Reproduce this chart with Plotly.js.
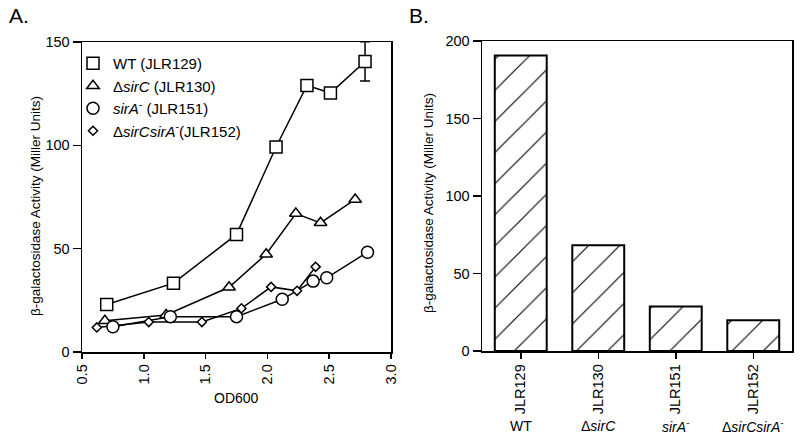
<!DOCTYPE html>
<html>
<head>
<meta charset="utf-8">
<script src="https://cdn.plot.ly/plotly-3.0.1.min.js"></script>
<style>html,body{margin:0;padding:0;background:#fff;}#chart{width:800px;height:438px;}</style>
</head>
<body>
<div id="chart"></div>
<script>
// Panel A: time course (OD600 vs beta-galactosidase activity)
const seriesNames = ['WT (JLR129)', 'Δ<i>sirC</i> (JLR130)', '<i>sirA</i><sup>-</sup> (JLR151)', 'Δ<i>sirCsirA</i><sup>-</sup>(JLR152)'];
const odWT = [0.70, 1.24, 1.75, 2.07, 2.32, 2.51, 2.79];
const actWT = [23.0, 33.3, 56.9, 99.2, 129.0, 125.3, 140.6];
const errWT = [0, 0, 0, 0, 0, 0, 9.5];
const odSirC = [0.685, 1.18, 1.69, 1.99, 2.23, 2.43, 2.71];
const actSirC = [15.1, 17.9, 31.3, 47.3, 67.0, 62.5, 73.8];
const odSirA = [0.75, 1.215, 1.75, 2.12, 2.37, 2.48, 2.81];
const actSirA = [12.2, 17.1, 17.1, 25.5, 34.3, 35.9, 48.3];
const odDouble = [0.62, 1.04, 1.47, 1.79, 2.03, 2.24, 2.39];
const actDouble = [11.9, 14.5, 14.5, 21.1, 31.5, 29.6, 41.2];
const xTickVals = [0.5, 1.0, 1.5, 2.0, 2.5, 3.0];
const xTickText = ['0.5', '1.0', '1.5', '2.0', '2.5', '3.0'];
const xTitleA = 'OD600';
const yTitle = 'β-galactosidase Activity (Miller Units)';

// Panel B: activity per strain
const strains = ['JLR129', 'JLR130', 'JLR151', 'JLR152'];
const genotypes = ['WT', 'Δ<i>sirC</i>', '<i>sirA</i><sup>-</sup>', 'Δ<i>sirCsirA</i><sup>-</sup>'];
const activityB = [190.7, 68.2, 28.7, 19.9];

const FONT = 'Liberation Sans, Arial, Helvetica, sans-serif';
const series = [
  {x: odWT, y: actWT, sym: 'square', size: 12, err: errWT},
  {x: odSirC, y: actSirC, sym: 'triangle-up', size: 11},
  {x: odSirA, y: actSirA, sym: 'circle', size: 12},
  {x: odDouble, y: actDouble, sym: 'diamond', size: 7}
];

const traces = [];
series.forEach(s => {
  traces.push({type: 'scatter', mode: 'lines', x: s.x, y: s.y, xaxis: 'x', yaxis: 'y',
    line: {color: '#000', width: 1.5}, showlegend: false, hoverinfo: 'skip'});
});
series.forEach((s, i) => {
  const t = {type: 'scatter', mode: 'markers', x: s.x, y: s.y, xaxis: 'x', yaxis: 'y',
    name: seriesNames[i],
    marker: {symbol: s.sym, size: s.size, color: '#fff', line: {color: '#000', width: 1.5}},
    showlegend: true};
  if (s.err) t.error_y = {type: 'data', array: s.err, visible: true, color: '#000', thickness: 1.5, width: 5};
  traces.push(t);
});

traces.push({type: 'bar', x: strains.map((_, i) => i), y: activityB, xaxis: 'x2', yaxis: 'y2', width: 0.67,
  showlegend: false,
  marker: {color: '#fff', line: {color: '#000', width: 2},
    pattern: {shape: '/', size: 22, solidity: 0.05, fgcolor: '#000', bgcolor: '#fff', fgopacity: 1, fillmode: 'replace'}}});

const axBase = {showline: true, mirror: true, linecolor: '#000', linewidth: 1.5, showgrid: false, zeroline: false,
  ticks: 'outside', tickcolor: '#000', tickwidth: 1.5, tickfont: {family: FONT, size: 14.5, color: '#000'}};

const annotations = [
  {text: 'A.', xref: 'paper', yref: 'paper', x: 7 / 800, y: 1 - 15 / 438, xanchor: 'left', yanchor: 'middle', showarrow: false,
    font: {family: FONT, size: 21, color: '#000'}},
  {text: 'B.', xref: 'paper', yref: 'paper', x: 407 / 800, y: 1 - 15 / 438, xanchor: 'left', yanchor: 'middle', showarrow: false,
    font: {family: FONT, size: 21, color: '#000'}},
  {text: yTitle, xref: 'paper', yref: 'paper', x: 35 / 800, y: 1 - 206 / 438, xanchor: 'center', yanchor: 'middle',
    textangle: -90, showarrow: false, font: {family: FONT, size: 13.5, color: '#000'}},
  {text: yTitle, xref: 'paper', yref: 'paper', x: 428 / 800, y: 1 - 203 / 438, xanchor: 'center', yanchor: 'middle',
    textangle: -90, showarrow: false, font: {family: FONT, size: 13.5, color: '#000'}},
  {text: xTitleA, xref: 'paper', yref: 'paper', x: 236.5 / 800, y: 1 - 397.5 / 438, xanchor: 'center', yanchor: 'middle',
    showarrow: false, font: {family: FONT, size: 14, color: '#000'}}
];
genotypes.forEach((g, i) => {
  annotations.push({text: g, xref: 'x2', yref: 'paper', x: i, y: 1 - 426 / 438, xanchor: 'center', yanchor: 'middle',
    showarrow: false, font: {family: FONT, size: 14, color: '#000'}});
});

const layout = {
  width: 800, height: 438, margin: {l: 0, r: 0, t: 0, b: 0},
  paper_bgcolor: '#fff', plot_bgcolor: '#fff',
  font: {family: FONT, color: '#000'},
  xaxis: Object.assign({}, axBase, {domain: [82 / 800, 391 / 800], range: [0.5, 3.0], anchor: 'y',
    tickvals: xTickVals, ticktext: xTickText, tickangle: -90, ticklen: 5}),
  yaxis: Object.assign({}, axBase, {domain: [1 - 352 / 438, 1 - 42 / 438], range: [0, 150], anchor: 'x',
    tickvals: [0, 50, 100, 150], ticklen: 8}),
  xaxis2: Object.assign({}, axBase, {domain: [482 / 800, 792 / 800], range: [-0.5, 3.5], anchor: 'y2',
    tickvals: strains.map((_, i) => i), ticktext: strains, tickangle: -90, ticklen: 6}),
  yaxis2: Object.assign({}, axBase, {domain: [1 - 351 / 438, 1 - 41 / 438], range: [0, 200], anchor: 'x2',
    tickvals: [0, 50, 100, 150, 200], ticklen: 8}),
  showlegend: true,
  legend: {x: 73 / 800, y: 1 - 47 / 438, xanchor: 'left', yanchor: 'top', bgcolor: 'rgba(0,0,0,0)',
    font: {family: FONT, size: 15, color: '#000'}, tracegroupgap: 0, itemwidth: 30},
  annotations: annotations
};

Plotly.newPlot('chart', traces, layout, {staticPlot: true, displayModeBar: false});
</script>
</body>
</html>
